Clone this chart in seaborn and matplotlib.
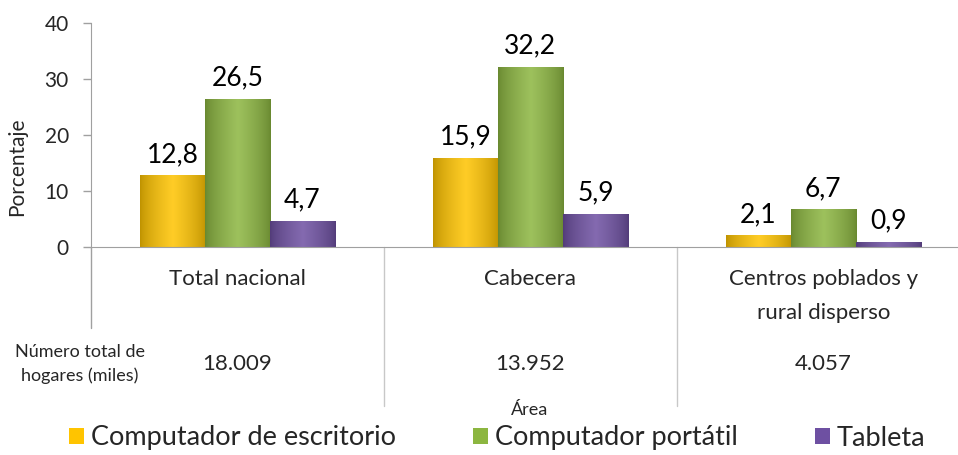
import matplotlib
matplotlib.use("Agg")
import matplotlib.pyplot as plt
import matplotlib.colors as mcolors
import numpy as np
import pandas as pd
import seaborn as sns

categories = ["Total nacional", "Cabecera", "Centros poblados y\nrural disperso"]
series = ["Computador de escritorio", "Computador portátil", "Tableta"]
escritorio = [12.8, 15.9, 2.1]
portatil = [26.5, 32.2, 6.7]
tableta = [4.7, 5.9, 0.9]
hogares = ["18.009", "13.952", "4.057"]
yticks = [0, 10, 20, 30, 40]

colors = ["#FFC400", "#8CB640", "#6E50A2"]

df = pd.DataFrame({
	"Área": categories * 3,
	"serie": [s for s in series for _ in categories],
	"valor": escritorio + portatil + tableta,
})

sns.set_style("white")
plt.rcParams["font.family"] = ["Lato", "DejaVu Sans"]

fig = plt.figure(figsize=(9.58, 4.55), dpi=100)
ax = fig.add_axes([91 / 958, 1 - 247 / 455, 1 - 91 / 958, 224 / 455])

sns.barplot(data=df, x="Área", y="valor", hue="serie", hue_order=series, order=categories,
			palette=colors, width=0.666, gap=0, ax=ax, legend=False, saturation=1, linewidth=0)

# cylinder-like shading on every bar
for p in ax.patches:
	x0, y0 = p.get_x(), p.get_y()
	w, h = p.get_width(), p.get_height()
	if h <= 0:
		continue
	base = np.array(mcolors.to_rgb(p.get_facecolor()))
	t = np.linspace(0, 1, 64)
	light = np.clip(1 - np.abs(t - 0.5) * 2.0, 0, 1) ** 0.7
	grad = np.array([base * (0.75 + 0.25 * l) + (1 - base) * 0.15 * l for l in light])
	img = ax.imshow(grad[np.newaxis, :, :], extent=[x0, x0 + w, y0, y0 + h], aspect="auto",
					zorder=p.get_zorder() + 0.1, interpolation="bicubic")
	img.set_clip_path(p)

# value labels
for container, vals in zip(ax.containers, [escritorio, portatil, tableta]):
	ax.bar_label(container, labels=[f"{v:.1f}".replace(".", ",") for v in vals],
				 padding=6, fontsize=19, color="black")

ax.set_xlim(-0.5, 2.46)
ax.set_ylim(0, 40)
ax.set_yticks(yticks)
ax.set_xticks([])
ax.set_xlabel("")
ax.set_ylabel("Porcentaje", fontsize=15)
ax.yaxis.set_label_coords(-0.074, 0.357)
ax.tick_params(axis="y", labelsize=15, left=True, length=6, color="#A0A0A0", width=1, pad=10)
for s in ["top", "right"]:
	ax.spines[s].set_visible(False)
ax.spines["left"].set_color("#A0A0A0")
ax.spines["bottom"].set_color("#A0A0A0")
ax.spines["left"].set_bounds(0, 40)

# table-like separators below the axis
ax.axvline(-0.5, ymin=-0.36, ymax=0, color="#A0A0A0", lw=1, clip_on=False)
for xs in [0.5, 1.5]:
	ax.axvline(xs, ymin=-0.71, ymax=0, color="#C8C8C8", lw=1, clip_on=False)

trans = ax.get_xaxis_transform()
for i, (cat, tot) in enumerate(zip(categories, hogares)):
	ax.text(i, -0.1, cat, transform=trans, ha="center", va="top", fontsize=16, linespacing=1.85)
	ax.text(i, -0.522, tot, transform=trans, ha="center", va="center", fontsize=16)

fig.text(80 / 958, 1 - 364 / 455, "Número total de\nhogares (miles)", ha="center", va="center",
		 fontsize=13, linespacing=1.6)
fig.text(530 / 958, 1 - 410 / 455, "Área", ha="center", va="center", fontsize=13)

handles = [plt.Rectangle((0, 0), 1, 1, facecolor=c, edgecolor="none") for c in colors]
fig.legend(handles, series, loc="center", bbox_to_anchor=(497 / 958, 1 - 438 / 455), ncol=3,
		   frameon=False, fontsize=19.5, handlelength=0.55, handleheight=0.55, handletextpad=0.25,
		   columnspacing=2.85, borderaxespad=0, borderpad=0)

fig.savefig("out.png", dpi=100)
